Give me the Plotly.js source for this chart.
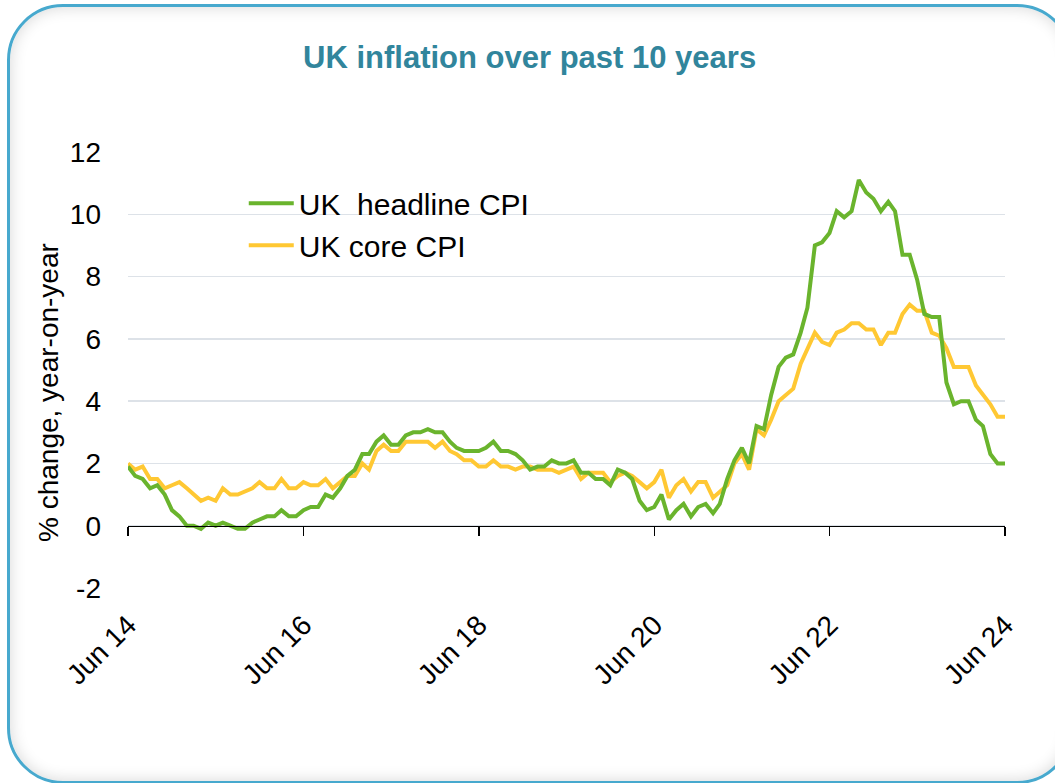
<!DOCTYPE html>
<html>
<head>
<meta charset="utf-8">
<script src="https://cdn.plot.ly/plotly-3.0.1.min.js"></script>
<style>
  html, body { margin: 0; padding: 0; background: #ffffff; }
  body { width: 1055px; height: 783px; overflow: hidden; position: relative; font-family: "Liberation Sans", Arial, sans-serif; }
  #frame {
    position: absolute; left: 7px; top: 4px; width: 1060px; height: 774px;
    border: 3px solid #47A9CE; border-radius: 56px;
    box-shadow: inset 0 0 16px rgba(0,0,0,0.16);
    background: #ffffff;
  }
  #chart { position: absolute; left: 0; top: 0; width: 1055px; height: 783px; }
</style>
</head>
<body>
<div id="frame"></div>
<div id="chart"></div>
<script>
// Monthly observations, Jun 2014 .. Jun 2024
const startYear = 2014, startMonth = 6, nMonths = 121;
const months = [];
for (let i = 0; i < nMonths; i++) {
  const m0 = startMonth - 1 + i;
  const y = startYear + Math.floor(m0 / 12);
  const m = (m0 % 12) + 1;
  months.push(y + '-' + String(m).padStart(2, '0') + '-01');
}

// UK headline CPI, % y/y
const headlineCPI = [
  1.9, 1.6, 1.5, 1.2, 1.3, 1.0, 0.5,
  0.3, 0.0, 0.0, -0.1, 0.1, 0.0, 0.1, 0.0, -0.1, -0.1, 0.1, 0.2,
  0.3, 0.3, 0.5, 0.3, 0.3, 0.5, 0.6, 0.6, 1.0, 0.9, 1.2, 1.6,
  1.8, 2.3, 2.3, 2.7, 2.9, 2.6, 2.6, 2.9, 3.0, 3.0, 3.1, 3.0,
  3.0, 2.7, 2.5, 2.4, 2.4, 2.4, 2.5, 2.7, 2.4, 2.4, 2.3, 2.1,
  1.8, 1.9, 1.9, 2.1, 2.0, 2.0, 2.1, 1.7, 1.7, 1.5, 1.5, 1.3,
  1.8, 1.7, 1.5, 0.8, 0.5, 0.6, 1.0, 0.2, 0.5, 0.7, 0.3, 0.6,
  0.7, 0.4, 0.7, 1.5, 2.1, 2.5, 2.0, 3.2, 3.1, 4.2, 5.1, 5.4,
  5.5, 6.2, 7.0, 9.0, 9.1, 9.4, 10.1, 9.9, 10.1, 11.1, 10.7, 10.5,
  10.1, 10.4, 10.1, 8.7, 8.7, 7.9, 6.8, 6.7, 6.7, 4.6, 3.9, 4.0,
  4.0, 3.4, 3.2, 2.3, 2.0, 2.0
];

// UK core CPI, % y/y
const coreCPI = [
  2.0, 1.8, 1.9, 1.5, 1.5, 1.2, 1.3,
  1.4, 1.2, 1.0, 0.8, 0.9, 0.8, 1.2, 1.0, 1.0, 1.1, 1.2, 1.4,
  1.2, 1.2, 1.5, 1.2, 1.2, 1.4, 1.3, 1.3, 1.5, 1.2, 1.4, 1.6,
  1.6, 2.0, 1.8, 2.4, 2.6, 2.4, 2.4, 2.7, 2.7, 2.7, 2.7, 2.5,
  2.7, 2.4, 2.3, 2.1, 2.1, 1.9, 1.9, 2.1, 1.9, 1.9, 1.8, 1.9,
  1.9, 1.8, 1.8, 1.8, 1.7, 1.8, 1.9, 1.5, 1.7, 1.7, 1.7, 1.4,
  1.6, 1.7, 1.6, 1.4, 1.2, 1.4, 1.8, 0.9, 1.3, 1.5, 1.1, 1.4,
  1.4, 0.9, 1.1, 1.3, 2.0, 2.3, 1.8, 3.1, 2.9, 3.4, 4.0, 4.2,
  4.4, 5.2, 5.7, 6.2, 5.9, 5.8, 6.2, 6.3, 6.5, 6.5, 6.3, 6.3,
  5.8, 6.2, 6.2, 6.8, 7.1, 6.9, 6.9, 6.2, 6.1, 5.7, 5.1, 5.1,
  5.1, 4.5, 4.2, 3.9, 3.5, 3.5
];

const seriesNames = ['UK  headline CPI', 'UK core CPI'];
const seriesColors = ['#6AB42D', '#FFC833'];

const tickDates = ['2014-06-01', '2016-06-01', '2018-06-01', '2020-06-01', '2022-06-01', '2024-06-01'];
const tickLabels = ['Jun 14', 'Jun 16', 'Jun 18', 'Jun 20', 'Jun 22', 'Jun 24'];
const yTicks = [-2, 0, 2, 4, 6, 8, 10, 12];
const yTickLabels = ['-2', '0', '2', '4', '6', '8', '10', '12'];
const yRange = [-2, 12];

const fontFamily = '"Liberation Sans", Arial, sans-serif';

const traces = [
  {
    x: months, y: coreCPI, type: 'scatter', mode: 'lines',
    name: seriesNames[1], line: { color: seriesColors[1], width: 4 },
    xaxis: 'x', yaxis: 'y', legendrank: 2
  },
  {
    x: months, y: headlineCPI, type: 'scatter', mode: 'lines',
    name: seriesNames[0], line: { color: seriesColors[0], width: 4 },
    xaxis: 'x', yaxis: 'y', legendrank: 1
  },
  {
    // helper so the zero-crossing axis (with tick marks) is drawn
    x: months, y: months.map(() => null), type: 'scatter', mode: 'lines',
    showlegend: false, hoverinfo: 'skip', xaxis: 'x2', yaxis: 'y'
  }
];

const layout = {
  width: 1055, height: 783,
  paper_bgcolor: 'rgba(0,0,0,0)', plot_bgcolor: 'rgba(0,0,0,0)',
  margin: { l: 128, r: 50, t: 152, b: 195, pad: 0 },
  font: { family: fontFamily, color: '#000000', size: 28 },
  title: {
    text: '<b>UK inflation over past 10 years</b>',
    font: { family: fontFamily, size: 31, color: '#31859C' },
    x: 0.502, xref: 'container', xanchor: 'center',
    y: 1 - 57 / 783, yref: 'container', yanchor: 'middle'
  },
  showlegend: true,
  legend: {
    x: 0.132, y: 0.942, xanchor: 'left', yanchor: 'top',
    bgcolor: 'rgba(0,0,0,0)', borderwidth: 0,
    font: { family: fontFamily, size: 30, color: '#000000' },
    traceorder: 'normal', itemwidth: 45, tracegroupgap: 0
  },
  xaxis: {
    type: 'date',
    range: [months[0], months[months.length - 1]],
    tickvals: tickDates, ticktext: tickLabels,
    tickangle: -45,
    showgrid: false, zeroline: false, showline: false,
    ticks: '', ticklabelstandoff: 14,
    tickfont: { family: fontFamily, size: 28, color: '#000000' },
    automargin: false, fixedrange: true
  },
  xaxis2: {
    type: 'date', overlaying: 'x', matches: 'x',
    anchor: 'free', position: (0 - yRange[0]) / (yRange[1] - yRange[0]),
    tickvals: tickDates, showticklabels: false,
    showgrid: false, zeroline: false,
    showline: true, linecolor: '#000000', linewidth: 1.5,
    ticks: 'outside', ticklen: 9, tickwidth: 1.5, tickcolor: '#000000',
    automargin: false, fixedrange: true
  },
  yaxis: {
    range: yRange, tickvals: yTicks, ticktext: yTickLabels,
    showgrid: true, gridcolor: '#DDE2E8', gridwidth: 1.5,
    zeroline: false, showline: false, ticks: '',
    ticklabelstandoff: 26,
    tickfont: { family: fontFamily, size: 28, color: '#000000' },
    automargin: false, fixedrange: true
  },
  annotations: [{
    text: '% change, year-on-year', textangle: -90,
    xref: 'paper', yref: 'paper',
    x: (48 - 128) / 877, y: (588 - 393) / 436,
    xanchor: 'center', yanchor: 'middle', showarrow: false,
    font: { family: fontFamily, size: 28, color: '#000000' }
  }]
};

Plotly.newPlot('chart', traces, layout, { displayModeBar: false, staticPlot: true });
</script>
</body>
</html>
